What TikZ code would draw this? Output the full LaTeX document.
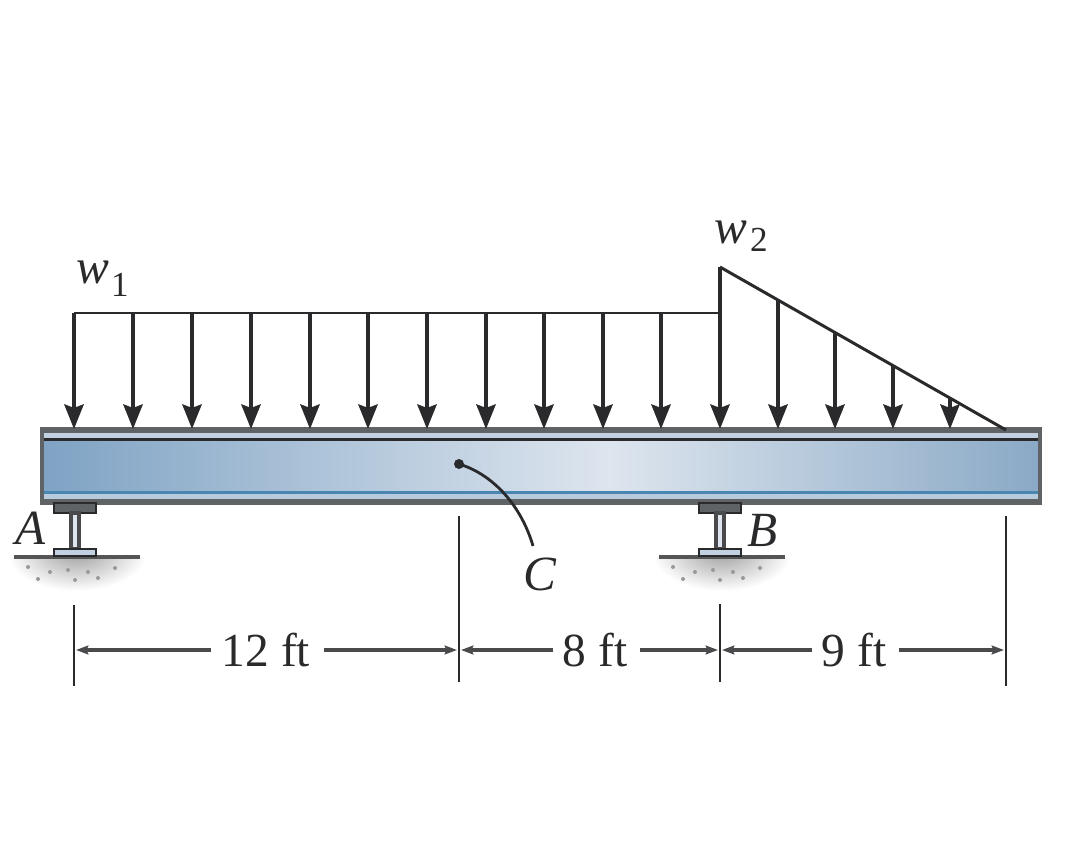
\documentclass[tikz,border=0pt]{standalone}
\usepackage{fontspec}
\setmainfont{Liberation Serif}
\usetikzlibrary{arrows.meta}
\definecolor{beamblue}{HTML}{7FA3C4}
\definecolor{beamlight}{HTML}{DDE5EE}
\definecolor{beamright}{HTML}{8AA9C6}
\definecolor{beamline}{HTML}{4A86B2}
\definecolor{beamedge}{HTML}{606366}
\definecolor{inkdark}{HTML}{2A2A2C}
\tikzset{
	loadline/.style={draw=inkdark,line width=1.9pt,-{Stealth[length=14pt,width=11pt,inset=2pt]}},
	outline/.style={draw=inkdark,line width=1.7pt,line join=miter},
	dimline/.style={draw=inkdark!85,line width=1.8pt,-{Stealth[length=7pt,width=5pt,inset=1pt]}},
	tickline/.style={draw=inkdark,line width=1.5pt},
	plate/.style={fill=beamedge,draw=inkdark,line width=1pt},
	lbl/.style={font=\fontsize{27}{30}\selectfont,text=inkdark,inner sep=0pt},
	subscr/.style={font=\fontsize{20}{20}\selectfont,text=inkdark,inner sep=0pt},
	symbol/.style={font=\fontsize{28}{30}\selectfont\itshape,text=inkdark,inner sep=0pt}
}
\begin{document}
\begin{tikzpicture}[x=0.02cm,y=-0.02cm]
\useasboundingbox (0,0) rectangle (1090,848);

% beam
\fill[left color=beamblue,right color=beamlight] (42,441) rectangle (610,492);
\fill[left color=beamlight,right color=beamright] (610,441) rectangle (1040,492);
\fill[beamedge] (42,429) rectangle (1040,433);
\fill[beamlight!70!beamblue] (42,433) rectangle (1040,438);
\fill[inkdark] (42,438) rectangle (1040,441);
\fill[beamline] (42,491) rectangle (1040,494);
\fill[beamlight!60!beamblue] (42,494) rectangle (1040,499);
\fill[beamedge] (42,499) rectangle (1040,503);
\draw[beamedge,line width=2pt] (42,429) rectangle (1040,503);

% supports
\foreach \s in {0,645}
{
	\begin{scope}[xshift=\s*0.02 cm]
	\begin{scope}
	\clip (0,557) rectangle (160,600);
	\shade[inner color=gray!75,outer color=white] (77,552) ellipse (70 and 39);
	\end{scope}
	\foreach \a/\b in {28/567,50/572,68/570,88/572,98/578,115/568,38/579,75/580}
		\fill[gray!80] (\a,\b) circle (2);
	\draw[inkdark!80,line width=2.2pt] (14,557) -- (140,557);
	\fill[plate] (54,503) rectangle (96,513);
	\fill[beamlight,draw=inkdark!85,line width=2pt] (71,513) rectangle (79,549);
	\fill[plate,fill=beamlight!70!beamblue,line width=1.6pt] (54,549) rectangle (96,556);
	\end{scope}
};                               %supports

% load
\foreach \x/\y in {74/313,133/313,192/313,251/313,310/313,368/313,427/313,486/313,544/313,603/313,661/313,720/267,778/300,835/332,893/365,950/399}
{
	\coordinate (top\x) at (\x,\y);
	\coordinate (tip\x) at (\x,429);
	\draw[loadline] (top\x) -- (tip\x);
};                               %load arrows
\coordinate (loadend) at (1006,430);
\draw[outline] (top74) -- (720,313);
\draw[outline] (top720) -- (loadend);
\draw[outline,line width=2.6pt] (720,313) -- (top720);

\node[symbol] (wone) at (93,272){w};
\node[subscr] (wonesub) at (120,285){1};
\node[symbol] (wtwo) at (731,232){w};
\node[subscr] (wtwosub) at (759,240){2};

% point C
\coordinate (pointC) at (459,464);
\fill[inkdark] (pointC) circle (5);
\node[symbol] (labelC) at (540,574){C};
\coordinate (leaderC) at (533,546);
\draw[inkdark,line width=1.6pt] (pointC) .. controls (495,475) and (522,508) .. (leaderC);

\node[symbol] (labelA) at (31,528){A};
\node[symbol] (labelB) at (763,530){B};

% dimensions
\coordinate (tickAt) at (74,605);
\coordinate (tickAb) at (74,686);
\coordinate (tickCt) at (459,516);
\coordinate (tickCb) at (459,682);
\coordinate (tickBt) at (720,604);
\coordinate (tickBb) at (720,682);
\coordinate (tickEt) at (1006,516);
\coordinate (tickEb) at (1006,686);
\draw[tickline] (tickAt) -- (tickAb);
\draw[tickline] (tickCt) -- (tickCb);
\draw[tickline] (tickBt) -- (tickBb);
\draw[tickline] (tickEt) -- (tickEb);

\coordinate (dimA) at (76,650);
\coordinate (dimCl) at (457,650);
\coordinate (dimCr) at (461,650);
\coordinate (dimBl) at (718,650);
\coordinate (dimBr) at (722,650);
\coordinate (dimE) at (1004,650);

\node[lbl] (ftA) at (266,650){12 ft};
\node[lbl] (ftB) at (595,650){8 ft};
\node[lbl] (ftC) at (854,650){9 ft};

\draw[dimline] (ftA.west)++(-11,0) coordinate (fromAl) -- (dimA);
\draw[dimline] (ftA.east)++(14,0) coordinate (fromAr) -- (dimCl);
\draw[dimline] (ftB.west)++(-9,0) coordinate (fromBl) -- (dimCr);
\draw[dimline] (ftB.east)++(12,0) coordinate (fromBr) -- (dimBl);
\draw[dimline] (ftC.west)++(-9,0) coordinate (fromCl) -- (dimBr);
\draw[dimline] (ftC.east)++(12,0) coordinate (fromCr) -- (dimE);
\end{tikzpicture}
\end{document}
